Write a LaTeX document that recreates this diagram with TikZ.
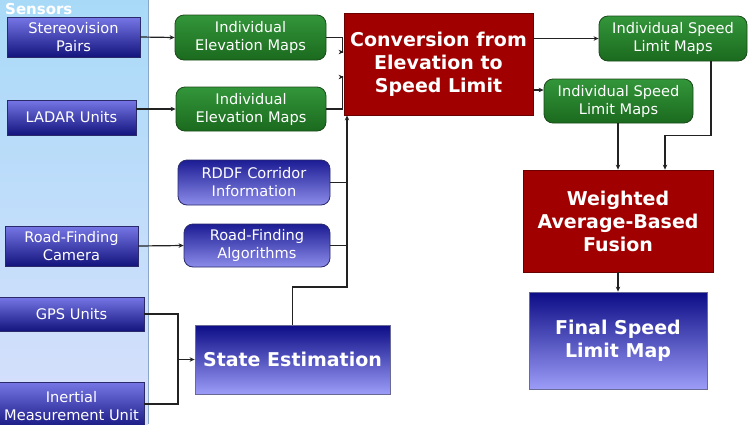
\documentclass[tikz,border=0pt]{standalone}
\usepackage{fontspec}
\setmainfont{DejaVu Sans}
\usetikzlibrary{arrows.meta,calc}
\definecolor{panelTop}{HTML}{A8DAF8}
\definecolor{panelBot}{HTML}{D8E0FC}
\definecolor{panelEdge}{HTML}{8AA6C8}
\definecolor{sensTop}{HTML}{7676E6}
\definecolor{sensBot}{HTML}{14147E}
\definecolor{navyEdge}{HTML}{2A2A6A}
\definecolor{greenTop}{HTML}{33963A}
\definecolor{greenBot}{HTML}{1B6A1E}
\definecolor{greenEdge}{HTML}{1A4A1A}
\definecolor{redFill}{HTML}{A00000}
\definecolor{redEdge}{HTML}{6A0000}
\definecolor{rblueTop}{HTML}{1C1C94}
\definecolor{rblueBot}{HTML}{8C8CEA}
\definecolor{bblueTop}{HTML}{0C0C86}
\definecolor{bblueBot}{HTML}{9C9CF8}
\definecolor{lineCol}{HTML}{222222}
\newcommand\regf{\fontsize{14.6}{18}\selectfont}
\newcommand\bigf{\bfseries\fontsize{19}{23}\selectfont}
\tikzset{
  base/.style={text=white, align=center, inner sep=0pt, anchor=center},
  sensorbox/.style={base, draw=navyEdge, line width=0.8pt, top color=sensTop, bottom color=sensBot, font=\regf},
  greenbox/.style={base, draw=greenEdge, line width=0.8pt, rounded corners=9pt, top color=greenTop, bottom color=greenBot, font=\regf},
  redbox/.style={base, draw=redEdge, line width=0.8pt, fill=redFill, font=\bigf},
  rbluebox/.style={base, draw=navyEdge, line width=0.8pt, rounded corners=9pt, top color=rblueTop, bottom color=rblueBot, font=\regf},
  bbluebox/.style={base, draw=navyEdge!70, line width=0.8pt, top color=bblueTop, bottom color=bblueBot, font=\bigf},
  conn/.style={draw=lineCol, line width=1.2pt},
  arr/.style={conn, -{Stealth[length=5pt,width=4.5pt]}},
}
\begin{document}
\begin{tikzpicture}[x=1pt,y=-1pt]
\useasboundingbox (0,0) rectangle (748,424);
\clip (0,0) rectangle (748,424);
\fill[white] (0,0) rectangle (748,424);
% sensors panel
\shade[top color=panelTop, bottom color=panelBot] (0,0) rectangle (148,424);
\draw[panelEdge, line width=1pt] (148,0) -- (148,424);
\node[base, font=\bfseries\fontsize{15}{15}\selectfont, anchor=west] (senslabel) at (5,9) {Sensors};
% sensor boxes
\node[sensorbox, minimum width=133pt, minimum height=40pt] (stereo) at (73.5,37) {Stereovision\\Pairs};
\node[sensorbox, minimum width=129pt, minimum height=35pt] (ladar) at (71.5,117.5) {LADAR Units};
\node[sensorbox, minimum width=133pt, minimum height=40pt] (rfcam) at (71.5,246) {Road-Finding\\Camera};
\node[sensorbox, minimum width=145pt, minimum height=34pt] (gps) at (71.5,314) {GPS Units};
\node[sensorbox, minimum width=145pt, minimum height=48pt] (imu) at (71.5,406) {Inertial\\Measurement Unit};
% green elevation maps
\node[greenbox, minimum width=151pt, minimum height=45pt] (iem1) at (250.5,37.5) {Individual\\Elevation Maps};
\node[greenbox, minimum width=150pt, minimum height=44pt] (iem2) at (251,109) {Individual\\Elevation Maps};
% conversion
\node[redbox, minimum width=189pt, minimum height=102pt] (conv) at (438.5,64) {Conversion from\\Elevation to\\Speed Limit};
% speed limit maps
\node[greenbox, minimum width=148pt, minimum height=45pt] (islm1) at (673,38.5) {Individual Speed\\Limit Maps};
\node[greenbox, minimum width=149pt, minimum height=44pt] (islm2) at (618.5,101) {Individual Speed\\Limit Maps};
% fusion and final
\node[redbox, minimum width=190pt, minimum height=102pt] (waf) at (618,221) {Weighted\\Average-Based\\Fusion};
\node[bbluebox, minimum width=178pt, minimum height=97pt] (final) at (618,340.5) {Final Speed\\Limit Map};
% rddf and road finding
\node[rbluebox, minimum width=152pt, minimum height=45pt] (rddf) at (254,182.5) {RDDF Corridor\\Information};
\node[rbluebox, minimum width=146pt, minimum height=43pt] (rfa) at (257,245.5) {Road-Finding\\Algorithms};
% state estimation
\node[bbluebox, minimum width=195pt, minimum height=69pt] (state) at (292.5,359.5) {State Estimation};
% junction coordinates
\coordinate (jc) at (347,287);
\coordinate (jg) at (178,359.5);
% connectors
\draw[arr] (stereo.east) -- (iem1.west);
\draw[arr] (ladar.east |- iem2.west) -- (iem2.west);
\draw[arr] (iem1.east) -- ++(16,0) |- ($(conv.west)+(0,-12)$);
\draw[arr] (iem2.east) -- ++(16,0) |- ($(conv.west)+(0,13)$);
\draw[arr] (state.north) |- (jc) -- (conv.south -| jc);
\draw[conn] (rddf.east) -- (rddf.east -| jc);
\draw[conn] (rfa.east) -- (rfa.east -| jc);
\draw[arr] (rfcam.east) -- (rfa.west);
\draw[conn] (gps.east) -| (jg);
\draw[conn] ($(imu.east)+(0,-2)$) -| (jg);
\draw[arr] (jg) -- (state.west);
\draw[arr] (conv.east |- islm1.west) -- (islm1.west);
\draw[arr] (conv.east |- {$(islm2.west)+(0,-11)$}) -- ($(islm2.west)+(0,-11)$);
\draw[arr] ($(islm1.south)+(38,0)$) -- ++(0,74) -| ($(waf.north)+(47,0)$);
\draw[arr] (islm2.south -| waf.north) -- (waf.north);
\draw[arr] (waf.south) -- (final.north);
\end{tikzpicture}
\end{document}
